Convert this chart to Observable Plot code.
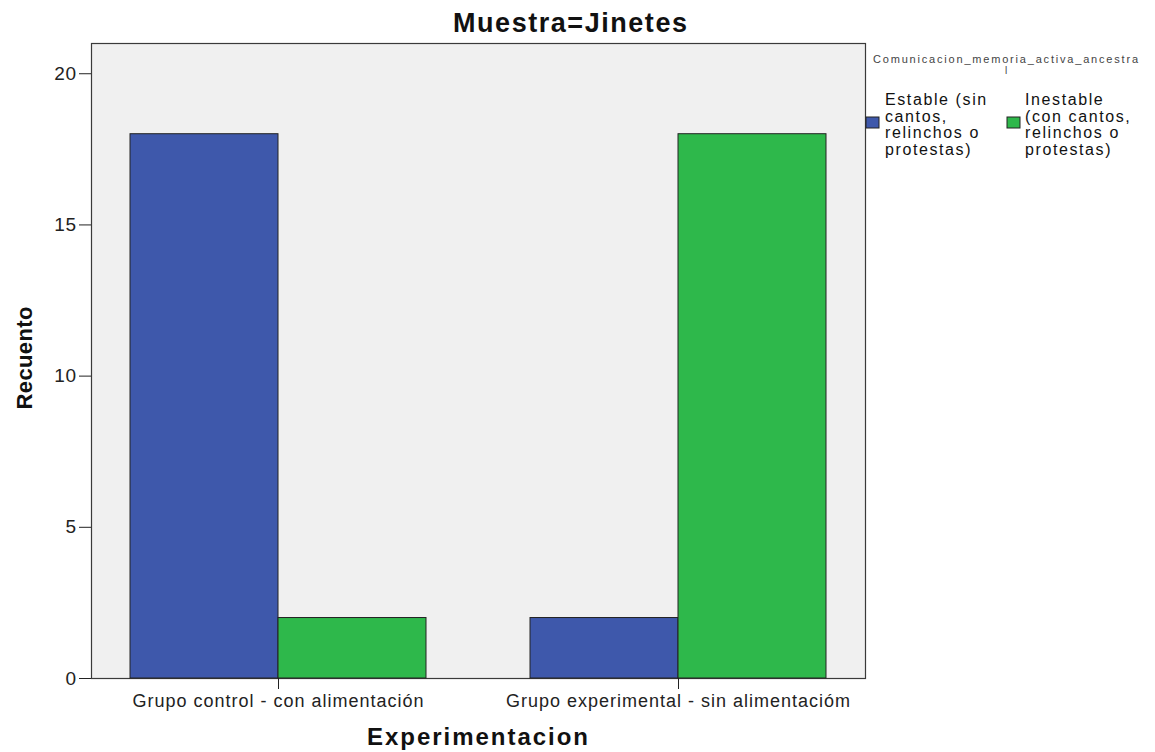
<!DOCTYPE html>
<html>
<head>
<meta charset="utf-8">
<script src="https://cdn.jsdelivr.net/npm/d3@7"></script>
<script src="https://cdn.jsdelivr.net/npm/@observablehq/plot@0.6"></script>
<style>
  html, body { margin: 0; padding: 0; background: #ffffff; }
  #wrap { position: relative; width: 1155px; height: 752px; overflow: hidden; font-family: "Liberation Sans", Arial, sans-serif; }
  #wrap > div, #wrap > svg.overlay { position: absolute; left: 0; top: 0; }
  #overlay { pointer-events: none; }
</style>
</head>
<body>
<div id="wrap">
  <div id="base"></div>
  <div id="bars"></div>
  <svg id="overlay" class="overlay" width="1155" height="752"></svg>
</div>
<script>
// ---- data ----
const groups = ["Grupo control - con alimentación", "Grupo experimental - sin alimentacióm"];
const series = ["Estable (sin cantos, relinchos o protestas)", "Inestable (con cantos, relinchos o protestas)"];
const estable = [18, 2];
const inestable = [2, 18];
const yTicks = [0, 5, 10, 15, 20];
const colors = ["#3e58ab", "#2eb84b"];
const legendTitle = ["Comunicacion_memoria_activa_ancestra", "l"];
const legendLines = [
  ["Estable (sin", "cantos,", "relinchos o", "protestas)"],
  ["Inestable", "(con cantos,", "relinchos o", "protestas)"]
];
const chartTitle = "Muestra=Jinetes";
const xTitle = "Experimentacion";
const yTitle = "Recuento";

const rows = [];
groups.forEach((g, i) => {
  rows.push({group: g, series: series[0], value: estable[i]});
  rows.push({group: g, series: series[1], value: inestable[i]});
});

const W = 1155, H = 752;
const M = {top: 43, right: 290, bottom: 74, left: 91};
const yDomain = [0, 21];
const font = '"Liberation Sans", Arial, sans-serif';

// ---- base: frame + y axis ----
const base = Plot.plot({
  width: W, height: H,
  marginTop: M.top, marginRight: M.right, marginBottom: M.bottom, marginLeft: M.left,
  style: `background: transparent; font-family: ${font}; font-size: 19px; letter-spacing: 0.5px; color: #222; overflow: visible;`,
  x: {axis: null},
  y: {domain: yDomain, ticks: yTicks, tickSize: 12, tickPadding: 3, label: null, tickFormat: d => String(d)},
  marks: [
    Plot.frame({fill: "#f0f0f0", stroke: "#3a3a3a", strokeWidth: 1.2})
  ]
});
document.getElementById("base").appendChild(base);

// ---- bars: faceted by group ----
const bars = Plot.plot({
  width: W, height: H,
  marginTop: M.top, marginRight: M.right, marginBottom: M.bottom, marginLeft: M.left,
  style: `background: transparent; font-family: ${font}; font-size: 18px; letter-spacing: 1px; color: #222; overflow: visible;`,
  facet: {data: rows, x: "group"},
  fx: {domain: groups, paddingInner: 0.26, paddingOuter: 0.0975, axis: "bottom", tickSize: 11, tickPadding: 5, label: null},
  x: {domain: series, padding: 0, axis: null},
  y: {domain: yDomain, axis: null},
  color: {domain: series, range: colors},
  marks: [
    Plot.barY(rows, {x: "series", y: "value", fill: "series", stroke: "#222", strokeWidth: 1})
  ]
});
document.getElementById("bars").appendChild(bars);

// ---- titles + legend overlay ----
const ov = d3.select("#overlay").style("font-family", font);

ov.append("text")
  .attr("x", 453).attr("y", 32)
  .attr("font-size", 27).attr("font-weight", "bold").attr("fill", "#111")
  .attr("textLength", 234).attr("lengthAdjust", "spacing")
  .text(chartTitle);

ov.append("text")
  .attr("x", 367).attr("y", 745)
  .attr("font-size", 24).attr("font-weight", "bold").attr("fill", "#111")
  .attr("textLength", 221).attr("lengthAdjust", "spacing")
  .text(xTitle);

ov.append("text")
  .attr("transform", "translate(32,358) rotate(-90)")
  .attr("text-anchor", "middle")
  .attr("font-size", 22).attr("font-weight", "bold").attr("fill", "#111")
  .attr("textLength", 103).attr("lengthAdjust", "spacing")
  .text(yTitle);

ov.append("text")
  .attr("x", 873).attr("y", 63)
  .attr("font-size", 11).attr("fill", "#444")
  .attr("textLength", 265).attr("lengthAdjust", "spacing")
  .text(legendTitle[0]);
ov.append("text")
  .attr("x", 1006).attr("y", 74)
  .attr("text-anchor", "middle")
  .attr("font-size", 10).attr("fill", "#444")
  .text(legendTitle[1]);

const swX = [866, 1007];
const txX = [885, 1025];
series.forEach((s, i) => {
  ov.append("rect")
    .attr("x", swX[i]).attr("y", 117).attr("width", 13).attr("height", 11)
    .attr("fill", colors[i]).attr("stroke", "#222").attr("stroke-width", 1);
  const t = ov.append("text")
    .attr("font-size", 16).attr("fill", "#111")
    .style("letter-spacing", "1.6px");
  legendLines[i].forEach((line, j) => {
    t.append("tspan").attr("x", txX[i]).attr("y", 105 + j * 16.7).text(line);
  });
});
</script>
</body>
</html>
